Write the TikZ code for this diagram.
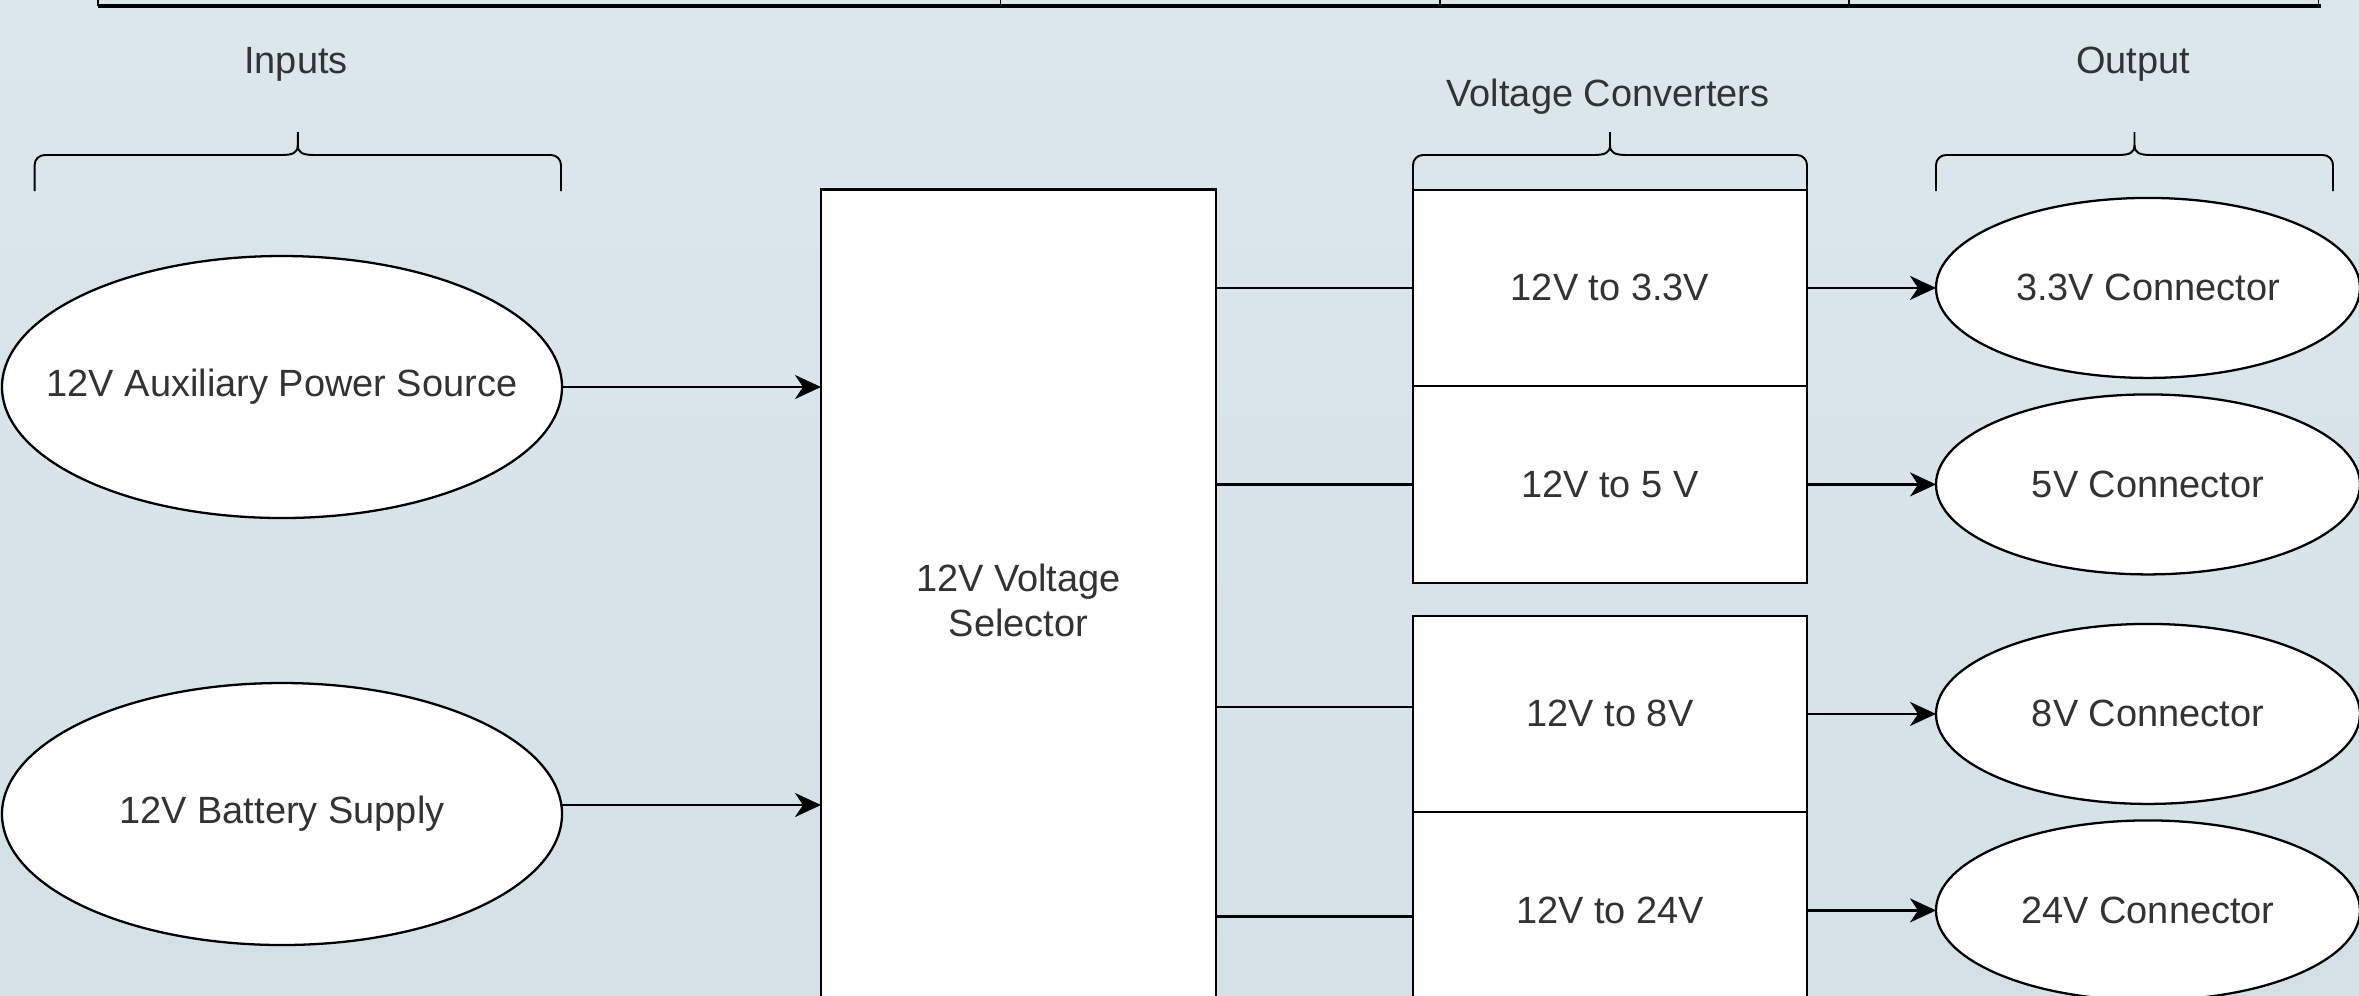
\documentclass[tikz,border=0pt]{standalone}
\usepackage{fontspec}
\setmainfont{Liberation Sans}
\usepackage{tikz}
\usetikzlibrary{arrows.meta, positioning, shapes.geometric}
\definecolor{bgtop}{HTML}{DCE7EC}
\definecolor{bgbot}{HTML}{D3E1E7}
\definecolor{inkgray}{HTML}{333333}

\begin{document}
\begin{tikzpicture}[x=1mm, y=1mm, font=\fontsize{10.8}{12.8}\selectfont, line width=0.65pt,
  every node/.append style={text=inkgray},
  source/.style={ellipse, draw=black, fill=white, inner sep=0pt, outer sep=0pt,
    minimum width=56mm, minimum height=26.2mm},
  plug/.style={ellipse, draw=black, fill=white, inner sep=0pt, outer sep=0pt,
    minimum width=42.4mm, minimum height=18mm},
  convbox/.style={rectangle, draw=black, fill=white, outer sep=0pt,
    minimum width=39.4mm, minimum height=19.65mm},
  feed/.style={-{Stealth[length=2.6mm, width=2.4mm, inset=0.8mm]}},
  grpbrace/.style={line width=0.55pt, line join=round}]

% ---- canvas ------------------------------------------------------------
\clip (0,0) rectangle (235.9,-99.5);
\shade[top color=bgtop, bottom color=bgbot] (0,0) rectangle (235.9,-99.5);

% ---- table edge from the page above ------------------------------------
\draw[line width=0.9pt] (9.78,-0.6) -- (232.1,-0.6);
\foreach \x in {9.78,100.05,143.98,184.9,231.84}
  \draw[line width=0.45pt] (\x,0) -- (\x,-0.6);

% ---- group labels + braces ---------------------------------------------
\node (inlbl) at (29.6,-6.45) {Inputs};
\node (cvlbl) at (160.8,-9.65) {Voltage Converters};
\node (outlbl) at (213.3,-6.45) {Output};
\foreach \xa/\xb/\yb in {3.46/56.1/-19.1, 141.3/180.7/-18.96, 193.6/233.3/-19.1} {
  \pgfmathsetmacro\xm{(\xa+\xb)/2}
  \draw[grpbrace] (\xa,\yb) -- (\xa,-16.5) arc[start angle=180, end angle=90, radius=1]
    -- (\xm-1.7,-15.5) .. controls (\xm-0.5,-15.5) and (\xm,-15.3) .. (\xm,-14.5) -- (\xm,-13.2);
  \draw[grpbrace] (\xm,-14.5) .. controls (\xm,-15.3) and (\xm+0.5,-15.5) .. (\xm+1.7,-15.5)
    -- (\xb-1,-15.5) arc[start angle=90, end angle=0, radius=1] -- (\xb,\yb);
}

% ---- inputs ------------------------------------------------------------
\node[source, label=center:{12V Auxiliary Power Source}] (aux) at (28.2,-38.7) {};
\node[source] (bat) at (28.2,-81.4) {12V Battery Supply};

% ---- selector ----------------------------------------------------------
\node[draw=black, fill=white, outer sep=0pt, minimum width=39.5mm, minimum height=82.1mm,
  align=center] (sel) at (101.85,-60.0) {12V Voltage\\Selector};

% ---- converters --------------------------------------------------------
\node[convbox] (c33) at (161.0,-28.79) {12V to 3.3V};
\node[convbox, below=0pt of c33] (c5) {12V to 5 V};
\node[convbox, below=3.3mm of c5] (c8) {12V to 8V};
\node[convbox, below=0pt of c8] (c24) {12V to 24V};

% ---- outputs -----------------------------------------------------------
\node[plug, right=12.9mm of c33] (o33) {3.3V Connector};
\node[plug, right=12.9mm of c5] (o5) {5V Connector};
\node[plug, right=12.9mm of c8] (o8) {8V Connector};
\node[plug, right=12.9mm of c24] (o24) {24V Connector};

% ---- connections -------------------------------------------------------
\draw[feed] (aux) -- (aux -| sel.west);
\draw[feed] ([yshift=0.9mm]bat.east) -- ([yshift=0.9mm]bat.east -| sel.west);
\draw (c33 -| sel.east) -- (c33.west);
\draw (c5 -| sel.east) -- (c5.west);
\draw ([yshift=0.7mm]c8.west -| sel.east) -- ([yshift=0.7mm]c8.west);
\draw ([yshift=-0.6mm]c24.west -| sel.east) -- ([yshift=-0.6mm]c24.west);
\foreach \c/\o in {c33/o33, c5/o5, c8/o8, c24/o24}
  \draw[feed] (\c) -- (\o);
\end{tikzpicture}
\end{document}
